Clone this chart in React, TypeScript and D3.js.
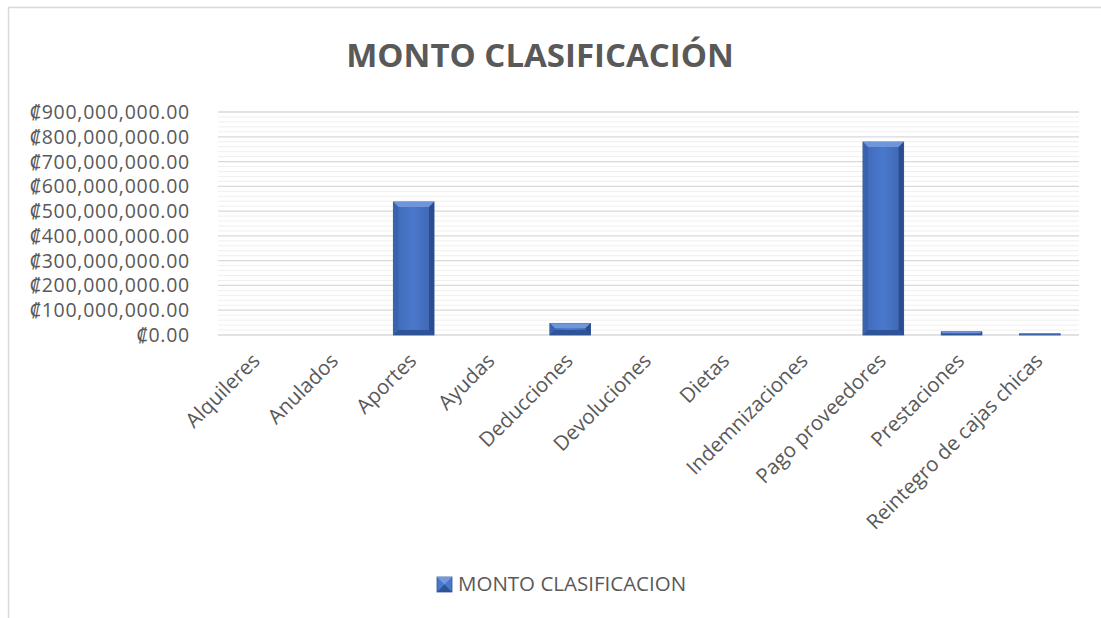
import React from 'react';
import * as d3 from 'd3';

// data
const categories = [
  'Alquileres', 'Anulados', 'Aportes', 'Ayudas', 'Deducciones', 'Devoluciones',
  'Dietas', 'Indemnizaciones', 'Pago proveedores', 'Prestaciones', 'Reintegro de cajas chicas',
];
const montos = [0, 0, 537000000, 0, 47000000, 0, 0, 0, 779000000, 13000000, 5000000];
const yTicks = [0, 100000000, 200000000, 300000000, 400000000, 500000000, 600000000, 700000000, 800000000, 900000000];
const seriesName = 'MONTO CLASIFICACION';
const title = 'MONTO CLASIFICACIÓN';

const W = 1101;
const H = 618;
const font = '"Open Sans", "Noto Sans", sans-serif';
const textColor = '#595959';

const App = () => {
  const margin = { left: 218, right: 22, top: 112, bottom: 283 };

  const x = d3.scaleBand<string>()
    .domain(categories)
    .range([margin.left, W - margin.right])
    .paddingInner(0.48)
    .paddingOuter(0.24);

  const y = d3.scaleLinear()
    .domain([0, 900000000])
    .range([H - margin.bottom, margin.top]);

  const minorTicks = d3.range(0, 900000001, 20000000).filter(v => v % 100000000 !== 0);
  const fmt = (v: number) => '₡' + d3.format(',.2f')(v);

  const bars = categories.map((c, i) => {
    const x0 = x(c) as number;
    const w = x.bandwidth();
    const top = y(montos[i]);
    const base = y(0);
    return { c, x0, w, top, base, h: base - top };
  });

  return (
    <svg width={W} height={H} style={{ position: 'absolute', left: 0, top: 0, background: '#fff' }}>
      <defs>
        <linearGradient id="barFace" x1="0" x2="1" y1="0" y2="0">
          <stop offset="0" stopColor="#3f69b8" />
          <stop offset="0.5" stopColor="#4a78cc" />
          <stop offset="1" stopColor="#3d65b0" />
        </linearGradient>
      </defs>
      {/* chart border (only top and left visible) */}
      <line x1={8.5} x2={8.5} y1={7} y2={H} stroke="#d9d9d9" strokeWidth={1.5} />
      <line x1={8} x2={W} y1={7.5} y2={7.5} stroke="#d9d9d9" strokeWidth={1.5} />

      <text x={540} y={67} textAnchor="middle" fontFamily={font} fontWeight="bold" fontSize={33} fill={textColor}>
        {title}
      </text>

      {/* minor gridlines */}
      {minorTicks.map(v => (
        <line key={'m' + v} x1={margin.left} x2={W - margin.right} y1={y(v)} y2={y(v)} stroke="#efefef" strokeWidth={1} />
      ))}
      {/* major gridlines */}
      {yTicks.map(v => (
        <line key={'g' + v} x1={margin.left} x2={W - margin.right} y1={y(v)} y2={y(v)} stroke="#d9d9d9" strokeWidth={1.3} />
      ))}

      {yTicks.map(v => (
        <text key={'t' + v} x={190} y={y(v)} dy="0.36em" textAnchor="end" fontFamily={font} fontSize={19.5} letterSpacing={0.75} fill={textColor}>
          {fmt(v)}
        </text>
      ))}

      {bars.filter(b => b.h > 0).map(b => {
        const bev = Math.min(5, b.h / 2, b.w / 4);
        const { x0, w, top, base } = b;
        return (
          <g key={b.c}>
            <rect x={x0} y={top} width={w} height={b.h} fill="url(#barFace)" stroke="#2f5597" strokeWidth={0.8} />
            {/* top bevel */}
            <polygon points={`${x0},${top} ${x0 + w},${top} ${x0 + w - bev},${top + bev} ${x0 + bev},${top + bev}`} fill="#6f95da" />
            {/* left bevel */}
            <polygon points={`${x0},${top} ${x0 + bev},${top + bev} ${x0 + bev},${base - bev} ${x0},${base}`} fill="#3a62ad" />
            {/* right bevel */}
            <polygon points={`${x0 + w},${top} ${x0 + w - bev},${top + bev} ${x0 + w - bev},${base - bev} ${x0 + w},${base}`} fill="#2b4d8f" />
            {/* bottom bevel */}
            <polygon points={`${x0},${base} ${x0 + bev},${base - bev} ${x0 + w - bev},${base - bev} ${x0 + w},${base}`} fill="#2e5396" />
          </g>
        );
      })}

      {categories.map(c => {
        const cx = (x(c) as number) + x.bandwidth() / 2 + 4;
        const cy = y(0) + 27;
        return (
          <text key={'x' + c} transform={`translate(${cx},${cy}) rotate(-45)`} textAnchor="end" fontFamily={font} fontSize={20.5} fill={textColor}>
            {c}
          </text>
        );
      })}

      {/* legend */}
      <g>
        <rect x={437} y={577} width={15} height={15} fill="#4a78cc" stroke="#2f5597" strokeWidth={0.8} />
        <polygon points="437,577 452,577 444.5,584.5" fill="#7398dc" />
        <polygon points="437,592 452,592 444.5,584.5" fill="#2e5396" />
        <text x={458} y={591} fontFamily={font} fontSize={20.5} fill={textColor}>{seriesName}</text>
      </g>
    </svg>
  );
};

export default App;
